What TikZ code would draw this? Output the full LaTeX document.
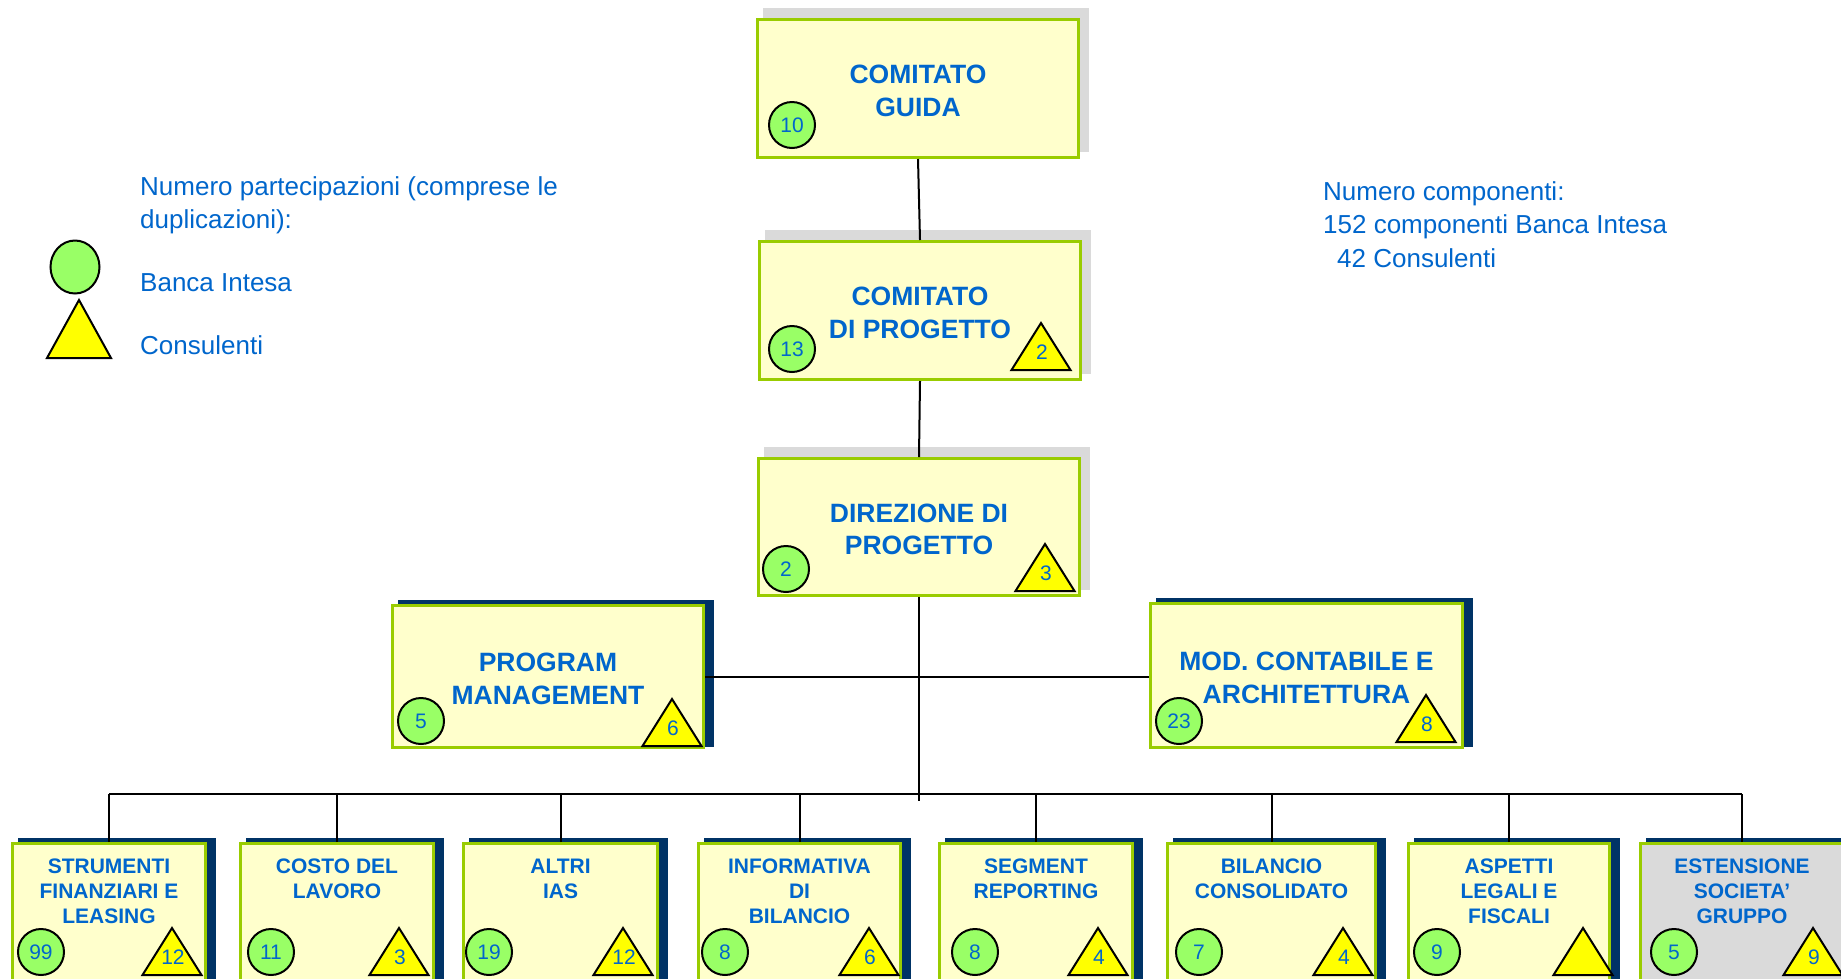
\documentclass[tikz,border=0pt]{standalone}
\usepackage{fontspec}
\setmainfont{Liberation Sans}
\usetikzlibrary{shapes.geometric,backgrounds}
\definecolor{txtblue}{RGB}{0,102,204}
\definecolor{boxfill}{RGB}{255,255,204}
\definecolor{boxgreen}{RGB}{153,204,0}
\definecolor{circfill}{RGB}{153,255,102}
\definecolor{trifill}{RGB}{255,255,0}
\definecolor{navy}{RGB}{0,51,102}
\definecolor{shgray}{RGB}{218,218,218}
\tikzset{
  topbox/.style={draw=boxgreen, line width=3pt, fill=boxfill, align=center, text=txtblue,
    font=\fontsize{26.5}{32.5}\selectfont\bfseries, inner sep=0pt},
  lowbox/.style={draw=boxgreen, line width=3pt, fill=boxfill, inner sep=0pt, minimum height=165pt},
  lowtitle/.style={align=center, text=txtblue, font=\fontsize{21}{25}\selectfont\bfseries,
    inner sep=0pt, anchor=north},
  bi/.style={circle, draw=black, line width=2pt, fill=circfill, minimum size=46pt, inner sep=0pt,
    text=txtblue, font=\fontsize{21}{25}\selectfont},
  trishape/.style={draw=black, line width=2pt, fill=trifill},
  trinum/.style={text=txtblue, font=\fontsize{21}{25}\selectfont, inner sep=0pt},
  link/.style={draw=black, line width=2pt},
  legendtext/.style={text=txtblue, font=\fontsize{26}{33.5}\selectfont, align=left, inner sep=0pt},
  navysh/.style={fill=navy},
  graysh/.style={fill=shgray}
}
% invisible strut that lowers centred titles slightly
\newcommand\titlestrut{\rule{0pt}{23.5pt}}
% name, apex x, base y, number
\newcommand\trimark[4]{%
  \draw[trishape] (#2-29.5,#3) -- (#2,#3-47) -- (#2+29.5,#3) -- cycle;
  \node[trinum] (#1) at (#2+1,#3-18) {#4};}
\begin{document}
\begin{tikzpicture}[x=1pt,y=-1pt]
\useasboundingbox (0,0) rectangle (1841,978);
\clip (0,0) rectangle (1841,978);

% ---------- legend ----------
\node[legendtext, anchor=north west] (legt) at (140,176) {Numero partecipazioni (comprese le\\duplicazioni):};
\node[ellipse, draw=black, line width=2pt, fill=circfill, minimum width=49pt, minimum height=53pt, inner sep=0pt] (legc) at (75,267) {};
\node[legendtext, anchor=base west] (legbi) at (140,291.5) {Banca Intesa};
\draw[trishape] (47,358) -- (79,300) -- (111,358) -- cycle;
\node[legendtext, anchor=base west] (legcons) at (140,354.5) {Consulenti};

\node[legendtext, anchor=north west] (numc) at (1323,181) {Numero componenti:\\152 componenti Banca Intesa\\\hspace*{14pt}42 Consulenti};

% ---------- upper boxes ----------
\node[topbox, minimum width=321pt, minimum height=138pt] (cg) at (918,88.5) {\titlestrut COMITATO\\GUIDA};
\node[topbox, minimum width=321pt, minimum height=138pt] (cp) at (920,310.5) {\titlestrut COMITATO\\DI PROGETTO};
\node[topbox, minimum width=321pt, minimum height=137pt] (dp) at (919,527) {\titlestrut DIREZIONE DI\\PROGETTO};
\node[topbox, minimum width=311pt, minimum height=142pt] (pm) at (548,676.5) {\titlestrut PROGRAM\\MANAGEMENT};
\node[topbox, minimum width=312pt, minimum height=144pt] (mc) at (1306.5,675.5) {\titlestrut MOD. CONTABILE E\\ARCHITETTURA};

\node[bi] (cgb) at (792,125) {10};
\node[bi] (cpb) at (792,349) {13};
\trimark{cpt}{1041}{370}{2}
\node[bi] (dpb) at (786,569) {2};
\trimark{dpt}{1045}{591}{3}
\node[bi] (pmb) at (421,721) {5};
\trimark{pmt}{672}{746}{6}
\node[bi] (mcb) at (1179,721) {23};
\trimark{mct}{1426}{742}{8}

% ---------- lower boxes ----------
\node[lowbox, minimum width=193pt] (b1) at (109,926) {};
\node[lowbox, minimum width=193pt] (b2) at (337,926) {};
\node[lowbox, minimum width=194pt] (b3) at (560.5,926) {};
\node[lowbox, minimum width=202pt] (b4) at (799.5,926) {};
\node[lowbox, minimum width=193pt] (b5) at (1036,926) {};
\node[lowbox, minimum width=208pt] (b6) at (1271.5,926) {};
\node[lowbox, minimum width=201pt] (b7) at (1509,926) {};
\node[lowbox, minimum width=203pt, fill=shgray] (b8) at (1742,926) {};

\node[lowtitle] (t1) at (109,859) {STRUMENTI\\FINANZIARI E\\LEASING};
\node[lowtitle] (t2) at (337,859) {COSTO DEL\\LAVORO};
\node[lowtitle] (t3) at (560.5,859) {ALTRI\\IAS};
\node[lowtitle] (t4) at (799.5,859) {INFORMATIVA\\DI\\BILANCIO};
\node[lowtitle] (t5) at (1036,859) {SEGMENT\\REPORTING};
\node[lowtitle] (t6) at (1271.5,859) {BILANCIO\\CONSOLIDATO};
\node[lowtitle] (t7) at (1509,859) {ASPETTI\\LEGALI E\\FISCALI};
\node[lowtitle] (t8) at (1742,859) {ESTENSIONE\\SOCIETA’\\GRUPPO};

\node[bi] (c1) at (41,952) {99};
\node[bi] (c2) at (271,952) {11};
\node[bi] (c3) at (489,952) {19};
\node[bi] (c4) at (725,952) {8};
\node[bi] (c5) at (975,952) {8};
\node[bi] (c6) at (1199,952) {7};
\node[bi] (c7) at (1437,952) {9};
\node[bi] (c8) at (1674,952) {5};

\trimark{n1}{172}{975}{12}
\trimark{n2}{399}{975}{3}
\trimark{n3}{623}{975}{12}
\trimark{n4}{869}{975}{6}
\trimark{n5}{1098}{975}{4}
\trimark{n6}{1343}{975}{4}
\draw[trishape] (1583-29.5,975) -- (1583,928) -- (1583+29.5,975) -- cycle;
\trimark{n8}{1813}{975}{9}

% ---------- connectors ----------
\coordinate (bus) at (919,794);
\coordinate (trunkend) at (919,801);
\draw[link] (cg.south) -- (cp.north);
\draw[link] (cp.south) -- (dp.north);
\draw[link] (dp.south) -- (trunkend);
\draw[link] (pm.east) -- (pm.east -| mc.west);
\draw[link] (b1.north |- bus) -- (b8.north |- bus);
\foreach \i in {1,...,8} \draw[link] (b\i.north) -- (b\i.north |- bus);

% ---------- shadows ----------
\begin{scope}[on background layer]
\foreach \n in {cg,cp,dp}
  \fill[graysh] ([xshift=7pt,yshift=10pt]\n.north west) rectangle ([xshift=9pt,yshift=7pt]\n.south east);
\foreach \n in {pm,mc,b1,b2,b3,b4,b5,b6,b7,b8}
  \fill[navysh] ([xshift=7pt,yshift=4pt]\n.north west) rectangle ([xshift=9pt,yshift=2pt]\n.south east);
\end{scope}
\end{tikzpicture}
\end{document}
